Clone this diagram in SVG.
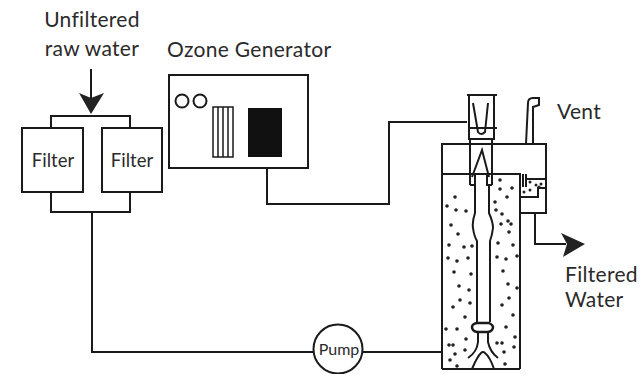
<svg xmlns="http://www.w3.org/2000/svg" width="643" height="374" viewBox="0 0 643 374">
<style>
.l{fill:none;stroke:#1a1a1a;stroke-width:2}
.t{font-family:"Lato","Noto Sans",sans-serif;fill:#2a2a2a;font-size:21px;letter-spacing:.3px}
.s{font-size:18.500px;letter-spacing:0}
.d{fill:#222;stroke:none}
</style>
<rect width="643" height="374" fill="#fff"/>
<g id="connectors">
<path class="l" d="M91 69V105"/>
<path class="d" d="M79 93L91 98L104 93L91 114Z"/>
<path class="l" d="M51 128V116H130V128M51 192V212H130V192M92 212V352H313M267 168V204H389V122H467M363 352H442M535 213V244H566"/>
<path class="d" d="M561 233L585 244L563 257L567 244Z"/>
</g>
<g id="inlet-label"><text class="t" x="92" y="27" text-anchor="middle">Unfiltered</text><text class="t" x="92" y="56" text-anchor="middle">raw water</text></g>
<g id="filter-left"><rect class="l" x="22" y="128" width="61" height="64"/><text class="t s" x="53" y="167" text-anchor="middle">Filter</text></g>
<g id="filter-right"><rect class="l" x="102" y="128" width="60" height="64"/><text class="t s" x="132" y="167" text-anchor="middle">Filter</text></g>
<g id="ozone-generator">
<text class="t" x="167" y="57">Ozone Generator</text>
<rect class="l" x="169" y="75" width="139" height="93"/>
<circle class="l" cx="182" cy="101" r="6.500"/><circle class="l" cx="200" cy="101" r="6.500"/>
<path class="l" style="stroke-width:1.500" d="M213 107H233V157H213ZM218 107V157M223 107V157M228 107V157"/>
<rect x="248" y="108" width="34" height="49" fill="#111"/>
</g>
<g id="pump"><circle class="l" cx="338" cy="349" r="24.500" fill="#fff"/><text class="t" x="339" y="355" text-anchor="middle" style="font-size:16px;letter-spacing:0">Pump</text></g>
<g id="contactor">
<path class="l" d="M467 95H497M469 95V139H494V95M468 128H497M473 103L478 132Q481 136 485 132L488 103"/>
<path class="l" d="M442 369V144H546V213H520M442 174H520V369M442 369H520M470 139V185M492 139V185M470 185H475V174M487 174V185H492"/>
<path class="l" d="M472 177L482 150L489 177"/>
<path class="l" d="M475 185V213Q472 222 473 228Q474 236 477 241V322M489 185V213Q493 222 493 228Q492 236 490 241V322"/>
<path class="l" style="stroke-width:2.500" d="M477 323H489Q493 325 493 327Q493 331 488 332H477Q472 331 472 327Q472 324 477 323Z"/>
<path class="l" d="M478 332V342Q477 352 468 358M488 332V342Q490 352 498 358M472 369Q477 357 481 353Q483 351 485 353Q490 357 494 369"/>
<path class="l" d="M526 144L528 103Q528 98 533 98H539V105L533 107V144"/>
<path class="l" d="M523 174V187M526 174V187M526 179H546M521 197H538V188H546"/>
<g class="dots">
<circle class="d" cx="455" cy="197" r="1.800"/><circle class="d" cx="447" cy="206" r="1.800"/><circle class="d" cx="456" cy="210" r="1.800"/><circle class="d" cx="466" cy="211" r="1.800"/><circle class="d" cx="451" cy="225" r="1.800"/><circle class="d" cx="458" cy="234" r="1.800"/><circle class="d" cx="449" cy="245" r="1.800"/><circle class="d" cx="464" cy="247" r="1.800"/><circle class="d" cx="472" cy="246" r="1.800"/><circle class="d" cx="448" cy="258" r="1.800"/><circle class="d" cx="457" cy="261" r="1.800"/><circle class="d" cx="468" cy="258" r="1.800"/><circle class="d" cx="454" cy="272" r="1.800"/><circle class="d" cx="471" cy="274" r="1.800"/><circle class="d" cx="459" cy="286" r="1.800"/><circle class="d" cx="469" cy="290" r="1.800"/><circle class="d" cx="460" cy="300" r="1.800"/><circle class="d" cx="470" cy="303" r="1.800"/><circle class="d" cx="453" cy="307" r="1.800"/><circle class="d" cx="465" cy="317" r="1.800"/><circle class="d" cx="446" cy="329" r="1.800"/><circle class="d" cx="457" cy="329" r="1.800"/><circle class="d" cx="466" cy="339" r="1.800"/><circle class="d" cx="449" cy="345" r="1.800"/><circle class="d" cx="453" cy="345" r="1.800"/><circle class="d" cx="465" cy="350" r="1.800"/><circle class="d" cx="455" cy="354" r="1.800"/><circle class="d" cx="450" cy="360" r="1.800"/><circle class="d" cx="457" cy="366" r="1.800"/>
<circle class="d" cx="500" cy="180" r="1.800"/><circle class="d" cx="500" cy="189" r="1.800"/><circle class="d" cx="512" cy="188" r="1.800"/><circle class="d" cx="507" cy="197" r="1.800"/><circle class="d" cx="495" cy="202" r="1.800"/><circle class="d" cx="496" cy="210" r="1.800"/><circle class="d" cx="502" cy="214" r="1.800"/><circle class="d" cx="508" cy="221" r="1.800"/><circle class="d" cx="501" cy="224" r="1.800"/><circle class="d" cx="511" cy="224" r="1.800"/><circle class="d" cx="509" cy="232" r="1.800"/><circle class="d" cx="498" cy="243" r="1.800"/><circle class="d" cx="513" cy="245" r="1.800"/><circle class="d" cx="497" cy="257" r="1.800"/><circle class="d" cx="506" cy="259" r="1.800"/><circle class="d" cx="517" cy="256" r="1.800"/><circle class="d" cx="503" cy="271" r="1.800"/><circle class="d" cx="508" cy="284" r="1.800"/><circle class="d" cx="517" cy="288" r="1.800"/><circle class="d" cx="509" cy="298" r="1.800"/><circle class="d" cx="502" cy="305" r="1.800"/><circle class="d" cx="513" cy="315" r="1.800"/><circle class="d" cx="506" cy="327" r="1.800"/><circle class="d" cx="515" cy="337" r="1.800"/><circle class="d" cx="497" cy="343" r="1.800"/><circle class="d" cx="502" cy="343" r="1.800"/><circle class="d" cx="514" cy="347" r="1.800"/><circle class="d" cx="504" cy="352" r="1.800"/><circle class="d" cx="505" cy="364" r="1.800"/>
<circle class="d" cx="530" cy="182" r="1.500"/><circle class="d" cx="536" cy="185" r="1.500"/><circle class="d" cx="541" cy="184" r="1.500"/><circle class="d" cx="530" cy="190" r="1.500"/><circle class="d" cx="524" cy="192" r="1.500"/><circle class="d" cx="539" cy="187" r="1.500"/>
</g>
</g>
<g id="labels"><text class="t" x="557" y="119">Vent</text><text class="t" x="565" y="282">Filtered</text><text class="t" x="565" y="307">Water</text></g>
</svg>
